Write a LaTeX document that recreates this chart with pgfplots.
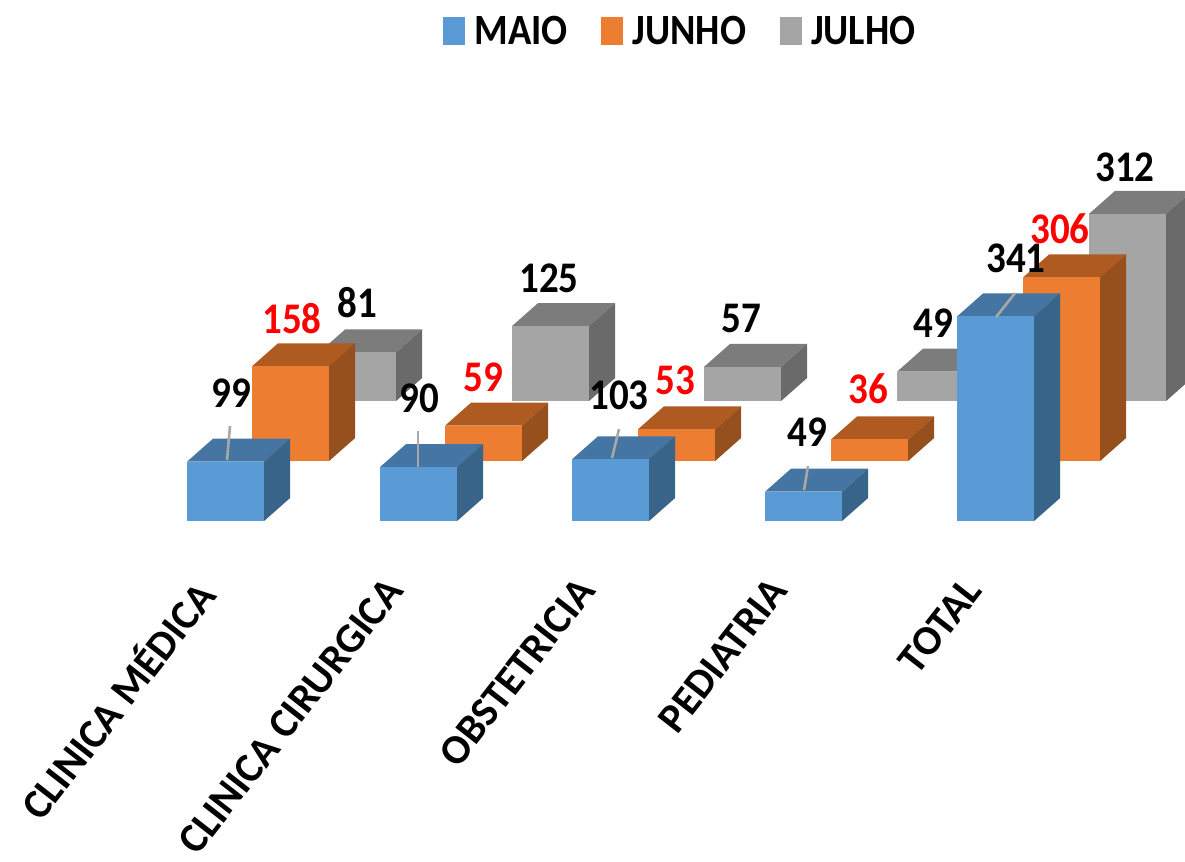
\documentclass[border=0pt]{standalone}
\usepackage{fontspec}
\setmainfont{Carlito}
\usepackage{pgfplots}
\pgfplotsset{compat=1.18}
\definecolor{bF}{HTML}{5B9BD5}\definecolor{bT}{HTML}{4575A2}\definecolor{bS}{HTML}{386489}
\definecolor{oF}{HTML}{ED7D31}\definecolor{oT}{HTML}{AE5A21}\definecolor{oS}{HTML}{96501D}
\definecolor{gF}{HTML}{A5A5A5}\definecolor{gT}{HTML}{7C7C7C}\definecolor{gS}{HTML}{6A6A6A}
\definecolor{leader}{HTML}{A8A8A8}
% x of the left edge, floor of the row, value, colour prefix
\newcommand\threed[4]{%
  \pgfmathsetmacro\xa{#1}\pgfmathsetmacro\xb{#1+77}\pgfmathsetmacro\xc{#1+103}\pgfmathsetmacro\xd{#1+26}%
  \pgfmathsetmacro\ya{#2}\pgfmathsetmacro\yb{#2+#3}\pgfmathsetmacro\yc{#2+#3+38.33}\pgfmathsetmacro\ye{#2+38.33}%
  \edef\temp{\noexpand\addplot[forget plot,fill=#4T,draw=none] coordinates {(\xa,\yb)(\xb,\yb)(\xc,\yc)(\xd,\yc)} --cycle;%
  \noexpand\addplot[forget plot,fill=#4S,draw=none] coordinates {(\xb,\ya)(\xc,\ye)(\xc,\yc)(\xb,\yb)} --cycle;%
  \noexpand\addplot[forget plot,fill=#4F,draw=none] coordinates {(\xa,\ya)(\xb,\ya)(\xb,\yb)(\xa,\yb)} --cycle;}\temp}
\newcommand\lab[4]{\node[text=#4,font=\fontsize{39}{39}\bfseries\selectfont,inner sep=0pt] at (axis cs:#1,{(521-#2)/0.6}) {\scalebox{1}[1.12]{#3}};}
\newcommand\lead[4]{\draw[leader,line width=2.6pt] (axis cs:#1,{(521-#2)/0.6}) -- (axis cs:#3,{(521-#4)/0.6});}
\begin{document}
\begin{tikzpicture}
\begin{axis}[
  scale only axis, width=1185pt, height=861pt,
  xmin=0, xmax=1185, ymin=-566.67, ymax=868.33,
  axis line style={draw=none}, major tick length=0pt,
  ytick=\empty,
  xtick={190,383,575,768,962},
  xticklabels={CLINICA MÉDICA,CLINICA CIRURGICA,OBSTETRICIA,PEDIATRIA,TOTAL},
  xticklabel style={yshift=286pt,rotate=52,anchor=north east,inner sep=0pt,font=\fontsize{41.5}{42}\bfseries\selectfont},
  clip=true,
  legend columns=3,
  legend style={at={(axis cs:443,816)},anchor=west,draw=none,fill=none,inner sep=0pt,outer sep=0pt,
    font=\fontsize{38.5}{39}\bfseries\selectfont,
    /tikz/every odd column/.style={column sep=8pt},
    /tikz/every even column/.style={column sep=31.5pt}},
  legend image code/.code={\fill[#1] (0pt,-13pt) rectangle (21pt,14pt);},
]
\addlegendimage{bF}\addlegendentry{\scalebox{1}[1.12]{MAIO}}
\addlegendimage{oF}\addlegendentry{\scalebox{1}[1.12]{JUNHO}}
\addlegendimage{gF}\addlegendentry{\scalebox{1}[1.12]{JULHO}}
% JULHO, floor at 200
\threed{319}{200}{81}{g}
\threed{512}{200}{125}{g}
\threed{704}{200}{57}{g}
\threed{897}{200}{49}{g}
\threed{1089}{200}{312}{g}
% JUNHO, floor at 100
\threed{252}{100}{158}{o}
\threed{445}{100}{59}{o}
\threed{638}{100}{53}{o}
\threed{831}{100}{36}{o}
\threed{1023}{100}{306}{o}
% MAIO, floor at 0
\threed{187}{0}{99}{b}
\threed{380}{0}{90}{b}
\threed{572}{0}{103}{b}
\threed{765}{0}{49}{b}
\threed{957}{0}{341}{b}
\lead{230}{426}{227}{460}
\lead{418}{431}{418}{467}
\lead{619}{429}{612}{458}
\lead{808}{466}{804}{490}
\lead{1015}{293}{996}{317}
\lab{231}{393}{99}{black}
\lab{292}{318}{158}{red}
\lab{357}{302}{81}{black}
\lab{419}{398}{90}{black}
\lab{483}{377}{59}{red}
\lab{549}{278}{125}{black}
\lab{619}{395}{103}{black}
\lab{675}{380}{53}{red}
\lab{741}{318}{57}{black}
\lab{807}{432}{49}{black}
\lab{868}{389}{36}{red}
\lab{933}{323}{49}{black}
\lab{1016}{258}{341}{black}
\lab{1060}{229}{306}{red}
\lab{1125}{167}{312}{black}
\end{axis}
\end{tikzpicture}
\end{document}
